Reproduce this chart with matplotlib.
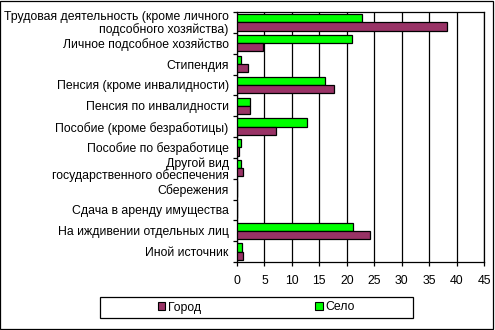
import numpy as np
import matplotlib.pyplot as plt
from matplotlib.patches import Patch, Rectangle

plt.rcParams['font.family'] = ['Liberation Sans', 'DejaVu Sans']

categories = [
    'Трудовая деятельность (кроме личного\nподсобного хозяйства)',
    'Личное подсобное хозяйство',
    'Стипендия',
    'Пенсия (кроме инвалидности)',
    'Пенсия по инвалидности',
    'Пособие (кроме безработицы)',
    'Пособие по безработице',
    'Другой вид\nгосударственного обеспечения',
    'Сбережения',
    'Сдача в аренду имущества',
    'На иждивении отдельных лиц',
    'Иной источник',
]
city = [38.3, 4.8, 2.0, 17.7, 2.4, 7.1, 0.4, 1.1, 0.0, 0.0, 24.3, 1.1]
village = [22.7, 21.0, 0.7, 16.1, 2.4, 12.8, 0.7, 0.7, 0.0, 0.0, 21.2, 0.9]
series_names = ['Город', 'Село']
colors = ['#993366', '#00FF00']
fs = 8.8

fig = plt.figure(figsize=(4.95, 3.3), dpi=100)
ax = fig.add_axes([237 / 495, 1 - 262 / 330, 247 / 495, 250 / 330])

y = np.arange(len(categories))
h = 0.39
ax.barh(y - h / 2, village, h, color=colors[1], edgecolor='black', linewidth=0.9, zorder=3)
ax.barh(y + h / 2, city, h, color=colors[0], edgecolor='black', linewidth=0.9, zorder=3)

ax.set_xlim(0, 45)
ax.set_ylim(len(categories) - 0.5, -0.5)
ax.set_xticks(np.arange(0, 46, 5))
ax.xaxis.grid(True, color='black', linewidth=0.9, zorder=0)
ax.tick_params(axis='x', direction='out', length=3, width=0.9, pad=6, labelsize=fs)

# category ticks sit on the group boundaries, labels in the middle
ax.set_yticks(np.arange(-0.5, len(categories), 1.0))
ax.set_yticklabels([])
ax.set_yticks(y, minor=True)
ax.set_yticklabels(categories, minor=True, fontsize=fs, linespacing=0.95)
ax.tick_params(axis='y', which='major', direction='out', length=3, width=0.9)
ax.tick_params(axis='y', which='minor', length=0, pad=6)

for s in ax.spines.values():
    s.set_linewidth(0.9)

# legend box
fig.patches.append(Rectangle((100 / 495, 1 - 318 / 330), 313 / 495, 21 / 330,
                             transform=fig.transFigure, fill=False,
                             edgecolor='black', linewidth=0.9))
handles = [Patch(facecolor=c, edgecolor='black', linewidth=0.8) for c in colors]
fig.legend(handles, series_names, loc='center', ncol=2,
           bbox_to_anchor=(256.5 / 495, 1 - 307.5 / 330),
           fontsize=fs, frameon=False, borderaxespad=0,
           handlelength=0.6, handleheight=0.6, handletextpad=0.25,
           columnspacing=9.3)

fig.patches.append(Rectangle((0.001, 0.003), 0.994, 0.994, transform=fig.transFigure,
                             fill=False, edgecolor='black', linewidth=0.9))

fig.savefig('out.png', dpi=100)
